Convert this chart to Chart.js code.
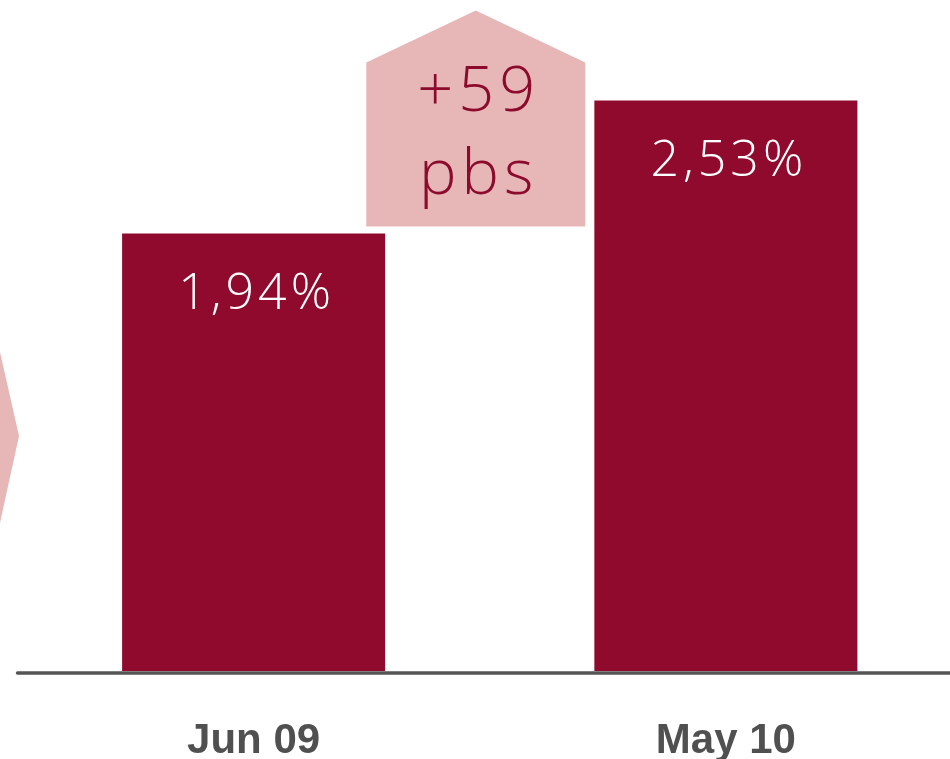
<!DOCTYPE html>
<html>
<head>
<meta charset="utf-8">
<script src="https://cdn.jsdelivr.net/npm/chart.js@4.4.1/dist/chart.umd.min.js"></script>
<style>
  html, body { margin: 0; padding: 0; background: #fff; overflow: hidden; }
  #wrap { position: relative; width: 962px; height: 759px; }
</style>
</head>
<body>
<div id="wrap"><canvas id="rateChart"></canvas></div>
<script>
/* ===============================
   DATA
================================ */
const categories = ["Jun 09", "May 10"];
const rates = [1.94, 2.53];
const deltaUnit = "pbs";

/* ===============================
   COLOURS
================================ */
const barColor = "#8f0a2c";
const pinkColor = "#e7b7b8";
const deltaTextColor = "#8c0a2c";
const axisColor = "#555555";

/* Format value with comma decimals */
function fmtRate(v) {
  return v.toFixed(2).replace(".", ",") + "%";
}

/* -------------------------------
   Value labels inside bars
-------------------------------- */
const barLabels = {
  id: "barLabels",
  afterDatasetsDraw(chart) {
    const ctx = chart.ctx;
    const meta = chart.getDatasetMeta(0);
    ctx.save();
    ctx.fillStyle = "#ffffff";
    ctx.font = "300 50px 'Open Sans'";
    ctx.letterSpacing = "4px";
    ctx.textAlign = "center";
    ctx.textBaseline = "alphabetic";
    meta.data.forEach((bar, i) => {
      ctx.fillText(fmtRate(rates[i]), bar.x + 3, bar.y + 76);
    });
    ctx.restore();
  }
};

/* -------------------------------
   Axis line + decorations
-------------------------------- */
const decorations = {
  id: "decorations",
  beforeDatasetsDraw(chart) {
    const ctx = chart.ctx;
    const area = chart.chartArea;
    const meta = chart.getDatasetMeta(0);
    const b1 = meta.data[0];
    const b2 = meta.data[1];

    ctx.save();
    ctx.fillStyle = pinkColor;

    // partial arrow tip on the left edge
    ctx.beginPath();
    ctx.moveTo(-40, 352);
    ctx.lineTo(0, 352);
    ctx.lineTo(area.left + 1.5, 436);
    ctx.lineTo(0, 523);
    ctx.lineTo(-40, 523);
    ctx.closePath();
    ctx.fill();

    // "house" shape with the change between the bars
    const cx = (b1.x + b2.x) / 2 - 14;
    const half = 109.5;
    const bottom = b1.y - 7;
    const shoulder = bottom - 164;
    const apex = bottom - 216;
    ctx.beginPath();
    ctx.moveTo(cx - half, bottom);
    ctx.lineTo(cx - half, shoulder);
    ctx.lineTo(cx, apex);
    ctx.lineTo(cx + half, shoulder);
    ctx.lineTo(cx + half, bottom);
    ctx.closePath();
    ctx.fill();

    const delta = Math.round((rates[1] - rates[0]) * 100);
    ctx.fillStyle = deltaTextColor;
    ctx.font = "300 63px 'Open Sans'";
    ctx.letterSpacing = "5px";
    ctx.textAlign = "center";
    ctx.textBaseline = "alphabetic";
    ctx.fillText((delta >= 0 ? "+" : "") + delta, cx + 3, apex + 101);
    ctx.fillText(deltaUnit, cx + 3, apex + 184);
    ctx.restore();
  },
  afterDatasetsDraw(chart) {
    const ctx = chart.ctx;
    const area = chart.chartArea;
    ctx.save();
    ctx.strokeStyle = axisColor;
    ctx.lineWidth = 3.5;
    ctx.lineCap = "round";
    ctx.beginPath();
    ctx.moveTo(area.left, area.bottom + 2);
    ctx.lineTo(area.right + 10, area.bottom + 2);
    ctx.stroke();
    ctx.restore();
  }
};

/* ===============================
   CHART
================================ */
new Chart(document.getElementById("rateChart"), {
  type: "bar",
  data: {
    labels: categories,
    datasets: [{
      data: rates,
      backgroundColor: barColor,
      borderWidth: 0,
      categoryPercentage: 1,
      barPercentage: 0.557
    }]
  },
  options: {
    responsive: true,
    maintainAspectRatio: false,
    animation: false,
    layout: { padding: { top: 17, left: 17.5, right: 0, bottom: 0 } },
    plugins: {
      legend: { display: false },
      tooltip: { enabled: false }
    },
    scales: {
      x: {
        grid: { display: false, drawTicks: false, tickLength: 0 },
        border: { display: false },
        afterFit: s => { s.height = 88; },
        ticks: {
          padding: 45,
          color: "#505050",
          font: { family: "'Liberation Sans', Arial, sans-serif", size: 42, weight: "bold" }
        }
      },
      y: {
        display: false,
        min: 0,
        max: 2.9
      }
    }
  },
  plugins: [decorations, barLabels]
});
</script>
</body>
</html>
